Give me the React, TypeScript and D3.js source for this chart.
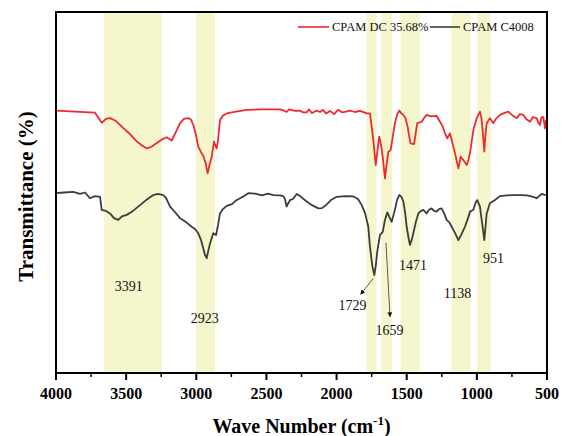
import React from "react";
import * as d3 from "d3";

const redWave = [4000,3865,3722,3674,3644,3615,3572,3522,3473,3423,3387,3353,3323,3282,3244,3211,3175,3145,3116,3088,3057,3038,3021,3002,2986,2966,2950,2934,2919,2906,2890,2874,2855,2845,2831,2810,2783,2717,2641,2546,2403,2375,2356,2339,2296,2261,2239,2213,2197,2175,2142,2118,2097,2075,2047,2018,1990,1961,1933,1904,1869,1833,1785,1762,1738,1721,1708,1696,1683,1671,1655,1644,1631,1614,1598,1584,1569,1553,1541,1524,1509,1493,1484,1472,1448,1438,1425,1393,1377,1358,1327,1286,1263,1245,1227,1211,1192,1174,1156,1132,1115,1097,1072,1060,1049,1025,1001,978,967,959,947,939,930,907,883,864,835,807,776,750,716,693,669,650,621,600,574,561,550,539,526,514,507,500];
const redT = [72.7,72.4,72.1,69.3,70.4,70.6,69.8,67.9,66.2,64.1,63.0,62.2,62.6,63.7,64.7,65.3,64.4,66.8,69.2,70.4,70.6,70.2,68.7,65.9,62.7,61.2,60.1,58.2,55.3,57.6,59.9,64.1,62.2,64.5,70.1,71.3,71.9,72.4,72.9,73.0,73.0,72.7,72.3,73.0,72.6,72.7,72.2,72.2,73.0,72.0,72.7,72.3,72.9,71.9,72.6,71.7,72.9,72.2,72.4,72.7,72.3,72.6,71.9,71.9,64.5,57.6,61.8,65.5,63.2,59.9,53.9,57.6,61.3,61.8,65.9,69.2,71.5,72.7,72.0,71.5,70.6,68.2,65.9,63.6,63.4,65.9,69.2,69.6,70.6,71.5,71.1,71.2,69.6,68.4,66.4,65.0,66.4,63.7,60.9,56.7,59.9,59.0,57.6,59.0,60.9,67.3,70.6,72.4,70.6,67.3,61.3,65.9,69.2,70.6,69.2,70.4,71.5,72.0,72.4,71.5,70.6,71.7,71.5,70.4,69.6,70.9,70.6,69.3,68.7,70.9,70.9,67.8,69.8,66.4];

const blackWave = [4000,3943,3877,3829,3793,3758,3722,3686,3674,3644,3615,3587,3556,3530,3496,3451,3401,3358,3306,3273,3235,3216,3187,3152,3116,3073,3033,3009,2986,2966,2950,2938,2926,2913,2902,2879,2859,2845,2831,2810,2783,2745,2717,2688,2660,2629,2582,2532,2489,2451,2403,2380,2368,2356,2343,2332,2311,2284,2261,2213,2175,2130,2104,2075,2040,1999,1940,1881,1847,1821,1797,1774,1762,1745,1731,1720,1710,1691,1671,1655,1638,1623,1607,1594,1584,1569,1553,1537,1524,1512,1500,1487,1477,1465,1453,1435,1417,1397,1382,1358,1341,1322,1306,1286,1270,1251,1234,1215,1198,1179,1156,1132,1113,1085,1063,1049,1025,1010,997,978,959,947,939,930,907,871,835,785,743,693,643,598,574,557,538,522,500];
const blackT = [49.8,50.0,50.2,49.6,50.0,48.4,49.0,48.8,45.2,44.9,44.2,42.9,42.4,43.4,43.8,44.9,46.5,47.9,49.3,49.6,49.3,48.5,46.1,44.6,42.9,41.8,40.5,39.9,38.7,36.8,34.5,32.7,31.8,34.1,35.9,38.7,38.2,41.0,44.2,45.4,46.3,46.8,47.8,48.4,49.0,49.8,49.7,49.2,49.7,49.3,49.2,49.0,48.2,46.1,47.1,47.9,48.2,49.6,49.0,47.5,46.5,45.6,45.7,46.5,47.9,48.8,49.0,48.9,48.2,46.5,44.3,40.5,35.0,29.6,27.1,29.9,33.6,38.2,39.1,42.4,44.5,43.2,41.9,43.8,45.2,47.9,49.3,48.8,47.5,44.6,40.5,37.4,35.5,36.8,38.7,41.8,44.2,44.9,45.2,44.2,45.2,45.6,44.9,44.7,45.4,45.6,44.3,42.4,41.8,40.5,38.8,36.8,38.2,40.5,42.9,44.7,45.2,47.1,47.9,46.1,40.5,36.8,40.2,44.2,47.0,47.9,49.0,49.2,49.3,49.3,49.2,48.8,48.4,49.0,49.6,49.4,49.3];

const bandStart = [3658, 3002, 1786, 1681, 1543, 1182, 997];
const bandEnd = [3245, 2866, 1715, 1605, 1406, 1044, 902];

const xTicks = [4000, 3500, 3000, 2500, 2000, 1500, 1000, 500];
const xMinorTicks = [3750, 3250, 2750, 2250, 1750, 1250, 750];

const peakLabels = ["3391", "2923", "1729", "1659", "1471", "1138", "951"];
const peakLabelWave = [3482, 2940, 1887, 1623, 1455, 1138, 882];
const peakLabelT = [23.9, 15.2, 18.8, 11.9, 29.9, 21.9, 31.6];

const arrowFromWave = [1738, 1648];
const arrowFromT = [26.2, 36.1];
const arrowToWave = [1828, 1619];
const arrowToT = [21.8, 15.6];

const seriesNames = ["CPAM DC 35.68%", "CPAM C4008"];
const seriesColors = ["#ec2a2f", "#3c3c3c"];

const W = 561, H = 436;
const L = 56, R = 547, T = 12, B = 373;

export default function App() {
  const x = d3.scaleLinear().domain([4000, 500]).range([L, R]);
  const y = d3.scaleLinear().domain([0, 100]).range([B, T]);
  const line = d3
    .line<[number, number]>()
    .x((d) => x(d[0]))
    .y((d) => y(d[1]));
  const redData = redWave.map((w, i) => [w, redT[i]] as [number, number]);
  const blackData = blackWave.map((w, i) => [w, blackT[i]] as [number, number]);
  const font = "'Liberation Serif', 'Times New Roman', serif";

  return (
    <svg width={W} height={H} style={{ position: "absolute", left: 0, top: 0, background: "#fff" }} fontFamily={font}>
      <defs>
        <marker id="ah" viewBox="0 0 10 10" refX="9" refY="5" markerWidth="6" markerHeight="6" orient="auto">
          <path d="M0,0 L10,5 L0,10 z" fill="#111" />
        </marker>
      </defs>
      <rect x={0} y={0} width={W} height={H} fill="#fff" />
      {bandStart.map((s, i) => (
        <rect key={i} x={x(s)} y={T} width={x(bandEnd[i]) - x(s)} height={B - T} fill="#f6f6cc" />
      ))}
      <path d={line(redData) || ""} fill="none" stroke={seriesColors[0]} strokeWidth={1.8} strokeLinejoin="round" />
      <path d={line(blackData) || ""} fill="none" stroke={seriesColors[1]} strokeWidth={1.8} strokeLinejoin="round" />
      {arrowFromWave.map((w, i) => (
        <line key={i} x1={x(w)} y1={y(arrowFromT[i])} x2={x(arrowToWave[i])} y2={y(arrowToT[i])} stroke="#333" strokeWidth={0.8} markerEnd="url(#ah)" />
      ))}
      {peakLabels.map((p, i) => (
        <text key={p} x={x(peakLabelWave[i])} y={y(peakLabelT[i])} textAnchor="middle" dominantBaseline="central" fontSize={14} fill="#111">
          {p}
        </text>
      ))}
      {/* legend */}
      <line x1={298} x2={329} y1={27} y2={27} stroke={seriesColors[0]} strokeWidth={1.6} />
      <text x={332} y={31} fontSize={12.5} fill="#111">{seriesNames[0]}</text>
      <line x1={430} x2={460} y1={27} y2={27} stroke={seriesColors[1]} strokeWidth={1.6} />
      <text x={463} y={31} fontSize={12.5} fill="#111">{seriesNames[1]}</text>
      {/* frame */}
      <rect x={L} y={T} width={R - L} height={B - T} fill="none" stroke="#000" strokeWidth={2} />
      {xTicks.map((t) => (
        <g key={t}>
          <line x1={x(t)} x2={x(t)} y1={B} y2={B + 7} stroke="#000" strokeWidth={2} />
          <text x={x(t)} y={399} textAnchor="middle" fontSize={16} fontWeight="bold" fill="#000">{t}</text>
        </g>
      ))}
      {xMinorTicks.map((t) => (
        <line key={t} x1={x(t)} x2={x(t)} y1={B} y2={B + 4} stroke="#000" strokeWidth={1.5} />
      ))}
      <text x={(L + R) / 2} y={433} textAnchor="middle" fontSize={20} fontWeight="bold" fill="#000">
        Wave Number (cm<tspan dy={-8} fontSize={13}>-1</tspan><tspan dy={8}>)</tspan>
      </text>
      <text transform={`translate(33, ${(T + B) / 2 + 4}) rotate(-90)`} textAnchor="middle" fontSize={21} fontWeight="bold" fill="#000">
        Transmittance (%)
      </text>
    </svg>
  );
}
